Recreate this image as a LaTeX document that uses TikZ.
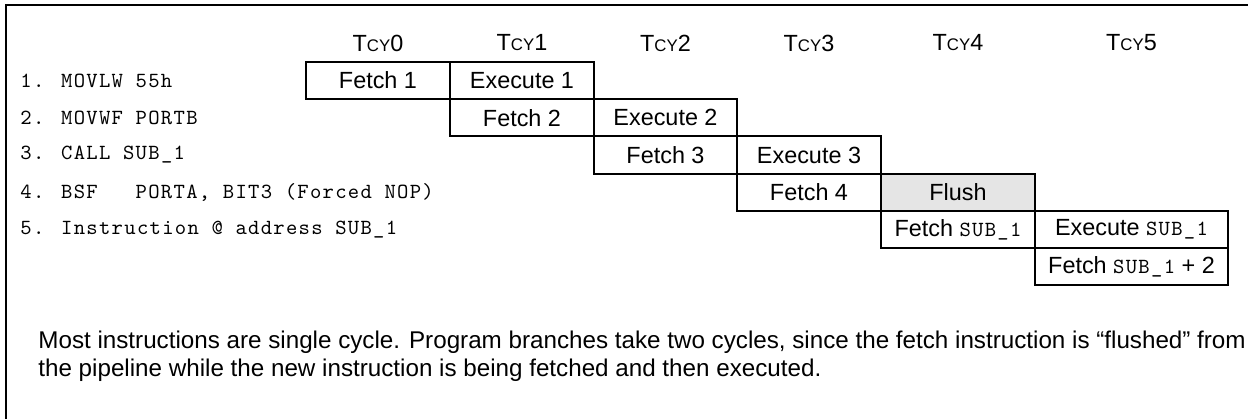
\documentclass[tikz,border=0pt]{standalone}
\usepackage{fontspec}
\setmainfont{Liberation Sans}
\newfontfamily\courfont{Latin Modern Mono}[LetterSpace=6]
\newcommand{\tcylabel}[1]{T{\fontsize{8.4}{10}\selectfont CY}#1}
\newcommand{\monotxt}[1]{{\courfont\fontsize{10.8}{12}\selectfont #1}}
\begin{document}
\begin{tikzpicture}[x=0.5pt,y=-0.5pt,
  cell/.style={draw=black, line width=1pt, minimum height=18.6pt, inner sep=0pt,
    font=\fontsize{11.7}{14}\selectfont},
  hdr/.style={inner sep=0pt, font=\fontsize{11.7}{14}\selectfont},
  instr/.style={anchor=west, inner sep=0pt, font=\courfont\fontsize{10.8}{12}\selectfont},
  captxt/.style={anchor=west, inner sep=0pt, font=\fontsize{12.1}{14}\selectfont},
  frame/.style={draw=black, line width=1pt}]
\useasboundingbox (0,0) rectangle (1248,418);
\draw[frame] (6,430) -- (6,5) -- (1260,5);
% headers
\node[hdr] (h0) at (378,43) {\tcylabel{0}};
\node[hdr] (h1) at (522,43) {\tcylabel{1}};
\node[hdr] (h2) at (665.5,43) {\tcylabel{2}};
\node[hdr] (h3) at (809,43) {\tcylabel{3}};
\node[hdr] (h4) at (958,43) {\tcylabel{4}};
\node[hdr] (h5) at (1131.5,43) {\tcylabel{5}};
% instruction labels
\node[instr] (i1) at (20,80.6) {1. MOVLW 55h};
\node[instr] (i2) at (20,117.8) {2. MOVWF PORTB};
\node[instr] (i3) at (20,155) {3. CALL SUB\_1};
\node[instr] (i4) at (20,192.2) {4. BSF\ \ \ PORTA, BIT3 (Forced NOP)};
\node[instr] (i5) at (20,229.4) {5. Instruction @ address SUB\_1};
% pipeline cells
\node[cell, minimum width=72pt] (f1) at (378,80.6) {Fetch 1};
\node[cell, minimum width=72pt] (e1) at (522,80.6) {Execute 1};
\node[cell, minimum width=72pt] (f2) at (522,117.8) {Fetch 2};
\node[cell, minimum width=71.5pt] (e2) at (665.5,117.8) {Execute 2};
\node[cell, minimum width=71.5pt] (f3) at (665.5,155) {Fetch 3};
\node[cell, minimum width=72pt] (e3) at (809,155) {Execute 3};
\node[cell, minimum width=72pt] (f4) at (809,192.2) {Fetch 4};
\node[cell, minimum width=77pt, fill=black!10] (fl) at (958,192.2) {Flush};
\node[cell, minimum width=77pt] (fs) at (958,229.4) {Fetch \monotxt{SUB\_1}};
\node[cell, minimum width=96.5pt] (es) at (1131.5,229.4) {Execute \monotxt{SUB\_1}};
\node[cell, minimum width=96.5pt] (fs2) at (1131.5,266.6) {Fetch \monotxt{SUB\_1} + 2};
% caption
\node[captxt] (c1) at (38,342) {Most instructions are single cycle. Program branches take two cycles, since the fetch instruction is “flushed” from};
\node[captxt] (c2) at (38,370) {the pipeline while the new instruction is being fetched and then executed.};
\end{tikzpicture}
\end{document}
